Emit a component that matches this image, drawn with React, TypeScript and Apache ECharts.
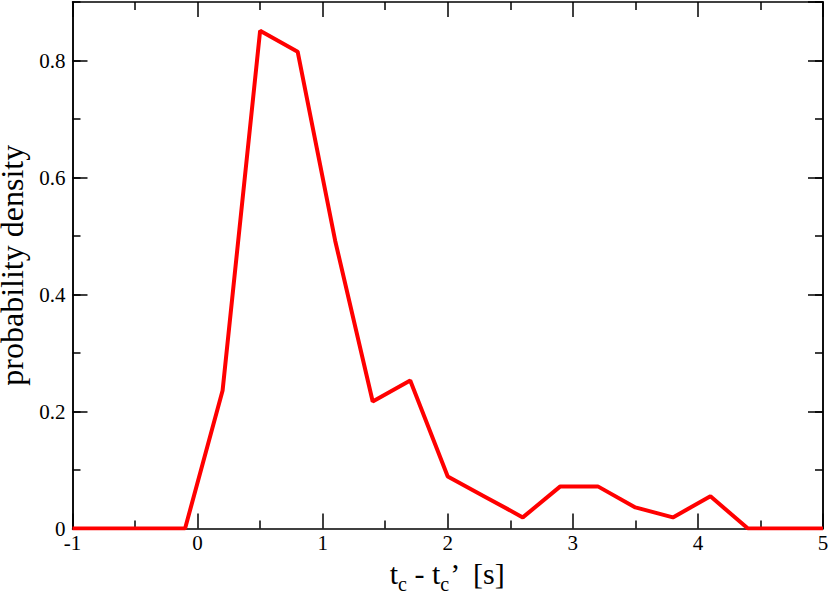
import React, { useEffect, useRef } from "react";
import * as echarts from "echarts";

const xValues = [-1, -0.7, -0.4, -0.1, 0.2, 0.5, 0.8, 1.1, 1.4, 1.7, 2.0, 2.3, 2.6, 2.9, 3.2, 3.5, 3.8, 4.1, 4.4, 4.7, 5.0];
const density = [0, 0, 0, 0, 0.236, 0.851, 0.815, 0.492, 0.217, 0.253, 0.089, 0.054, 0.019, 0.072, 0.072, 0.036, 0.019, 0.055, 0, 0, 0];
const yTickLabels = ["0", "0.2", "0.4", "0.6", "0.8"];

const FONT = "Liberation Serif";

export default function App() {
  const ref = useRef<HTMLDivElement>(null);
  useEffect(() => {
    const chart = echarts.init(ref.current!, undefined, { renderer: "svg" });
    const lineStyle = { color: "#000", width: 1.5 };
    const baseX = {
      type: "value" as const,
      min: -1,
      max: 5,
      interval: 1,
      splitLine: { show: false },
      axisLine: { show: true, onZero: false, lineStyle },
      axisTick: { show: true, inside: true, length: 15, lineStyle: { color: "#000", width: 1.5 } },
      minorTick: { show: true, splitNumber: 2, length: 8, lineStyle: { color: "#000", width: 1.5 } },
    };
    const baseY = (interval: number, len: number, position: "left" | "right", labels: boolean) => ({
      type: "value" as const,
      min: 0,
      max: 0.9,
      interval,
      position,
      splitLine: { show: false },
      axisLine: { show: true, onZero: false, lineStyle },
      axisTick: { show: true, inside: true, length: len, lineStyle: { color: "#000", width: 1.5 } },
      axisLabel: labels
        ? {
            show: true,
            margin: 7,
            color: "#000",
            fontFamily: FONT,
            fontSize: 21,
            showMaxLabel: false,
            formatter: (v: number) => {
              const i = Math.round(v / 0.2);
              return Math.abs(v - i * 0.2) < 1e-6 && yTickLabels[i] !== undefined ? yTickLabels[i] : "";
            },
          }
        : { show: false },
    });
    chart.setOption({
      animation: false,
      backgroundColor: "#fff",
      textStyle: { fontFamily: FONT },
      grid: { left: 72.5, right: 7, top: 2, bottom: 67.5, containLabel: false, outerBoundsMode: "none" },
      xAxis: [
        {
          ...baseX,
          position: "bottom",
          axisLabel: { show: true, margin: 4, color: "#000", fontFamily: FONT, fontSize: 21 },
          name: "{n|t}{s|c}{n| - t}{s|c}{n|’  [s]}",
          nameLocation: "middle",
          nameGap: 24,
          nameTextStyle: {
            rich: {
              n: { fontFamily: FONT, fontSize: 30, color: "#000", lineHeight: 30, verticalAlign: "top" },
              s: {
                fontFamily: FONT,
                fontSize: 20,
                color: "#000",
                lineHeight: 20,
                padding: [16, 0, 0, 0],
                verticalAlign: "top",
              },
            },
          },
        },
        { ...baseX, position: "top", axisLabel: { show: false } },
      ],
      yAxis: [
        {
          ...baseY(0.2, 15, "left", true),
          name: "probability density",
          nameLocation: "middle",
          nameGap: 37,
          nameTextStyle: { fontFamily: FONT, fontSize: 32, lineHeight: 32, color: "#000" },
        },
        baseY(0.1, 8, "left", false),
        baseY(0.2, 15, "right", false),
        baseY(0.1, 8, "right", false),
      ],
      series: [
        {
          type: "line",
          xAxisIndex: 0,
          yAxisIndex: 0,
          data: xValues.map((x, i) => [x, density[i]]),
          showSymbol: false,
          symbol: "none",
          lineStyle: { color: "#ff0000", width: 4 },
          z: 1,
        },
      ],
    });
    return () => chart.dispose();
  }, []);
  return (
    <div
      ref={ref}
      style={{ position: "fixed", left: 0, top: 0, width: 830, height: 596, background: "#fff" }}
    />
  );
}
